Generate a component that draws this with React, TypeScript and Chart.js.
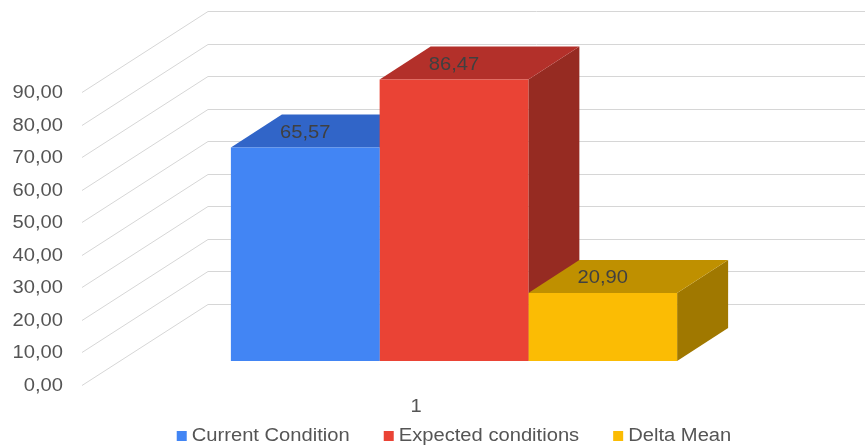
import React, { useEffect, useRef } from "react";
import { Chart, registerables } from "chart.js";

Chart.register(...registerables);

const categories = ["1"];
const seriesNames = ["Current Condition", "Expected conditions", "Delta Mean"];
const seriesValues = [[65.57], [86.47], [20.9]];
const frontColors = ["#4285F4", "#EA4335", "#FBBC04"];
const topColors = ["#3165C8", "#B3302A", "#BF9000"];
const sideColors = ["#2A55A8", "#962B22", "#A07800"];
const yTicks = [0, 10, 20, 30, 40, 50, 60, 70, 80, 90];

const fmt = (v: number) => v.toFixed(2).replace(".", ",");

// perspective constants (pixels)
const FRONT_DX = -38; // bar plane -> front plane
const FRONT_DY = 24;
const BACK_DX = 88; // bar plane -> back wall
const BACK_DY = -57;
const DEPTH_DX = 51; // bar depth
const DEPTH_DY = -33;
const STRETCH = 1.12;
const FONT = '18px "Liberation Sans", Arial, sans-serif';
const TEXT_COLOR = "#555555";

function stretchedText(ctx: CanvasRenderingContext2D, text: string, x: number, y: number, align: "left" | "center" | "right", color: string) {
  ctx.save();
  ctx.font = FONT;
  ctx.fillStyle = color;
  ctx.textBaseline = "middle";
  const w = ctx.measureText(text).width * STRETCH;
  let left = x;
  if (align === "center") left = x - w / 2;
  if (align === "right") left = x - w;
  ctx.translate(left, y);
  ctx.scale(STRETCH, 1);
  ctx.textAlign = "left";
  ctx.fillText(text, 0, 0);
  ctx.restore();
  return w;
}

const threeD = {
  id: "threeD",
  beforeDatasetsDraw(chart: any) {
    const ctx: CanvasRenderingContext2D = chart.ctx;
    const y = chart.scales.y;
    const area = chart.chartArea;
    ctx.save();
    ctx.strokeStyle = "#d6d6d6";
    ctx.lineWidth = 1;
    const frontX = area.left + FRONT_DX;
    const backX = area.left + BACK_DX;
    for (const t of yTicks) {
      const py = Math.round(y.getPixelForValue(t)) + 0.5;
      ctx.beginPath();
      ctx.moveTo(frontX, py + FRONT_DY);
      ctx.lineTo(backX, py + BACK_DY);
      ctx.lineTo(chart.width, py + BACK_DY);
      ctx.stroke();
    }
    ctx.restore();
    for (const t of yTicks) {
      const py = y.getPixelForValue(t) + FRONT_DY + 1;
      stretchedText(ctx, fmt(t), frontX - 19, py, "right", TEXT_COLOR);
    }
    chart.data.datasets.forEach((ds: any, i: number) => {
      const meta = chart.getDatasetMeta(i);
      meta.data.forEach((bar: any) => {
        const l = bar.x - bar.width / 2;
        const r = bar.x + bar.width / 2;
        const top = bar.y;
        const base = bar.base;
        ctx.save();
        ctx.fillStyle = sideColors[i];
        ctx.beginPath();
        ctx.moveTo(r, top);
        ctx.lineTo(r + DEPTH_DX, top + DEPTH_DY);
        ctx.lineTo(r + DEPTH_DX, base + DEPTH_DY);
        ctx.lineTo(r, base);
        ctx.closePath();
        ctx.fill();
        ctx.fillStyle = topColors[i];
        ctx.beginPath();
        ctx.moveTo(l, top);
        ctx.lineTo(l + DEPTH_DX, top + DEPTH_DY);
        ctx.lineTo(r + DEPTH_DX, top + DEPTH_DY);
        ctx.lineTo(r, top);
        ctx.closePath();
        ctx.fill();
        ctx.restore();
      });
    });
  },
  afterDatasetsDraw(chart: any) {
    const ctx: CanvasRenderingContext2D = chart.ctx;
    chart.data.datasets.forEach((ds: any, i: number) => {
      const meta = chart.getDatasetMeta(i);
      meta.data.forEach((bar: any, j: number) => {
        stretchedText(ctx, fmt(ds.data[j]), bar.x, bar.y + DEPTH_DY / 2 + 2, "center", "#404040");
      });
    });
    const x = chart.scales.x;
    const area = chart.chartArea;
    categories.forEach((c, j) => {
      stretchedText(ctx, c, x.getPixelForValue(j) + FRONT_DX, area.bottom + 46, "center", TEXT_COLOR);
    });
    const box = 10;
    const gapBox = 5;
    const gapItem = 34;
    ctx.save();
    ctx.font = FONT;
    const widths = seriesNames.map((n) => ctx.measureText(n).width * STRETCH);
    ctx.restore();
    const total = widths.reduce((a, w) => a + box + gapBox + w, 0) + gapItem * (seriesNames.length - 1);
    let lx = (area.left + area.right) / 2 - total / 2;
    const ly = area.bottom + 75;
    seriesNames.forEach((n, i) => {
      ctx.fillStyle = frontColors[i];
      ctx.fillRect(lx, ly - box / 2, box, box);
      stretchedText(ctx, n, lx + box + gapBox, ly, "left", TEXT_COLOR);
      lx += box + gapBox + widths[i] + gapItem;
    });
  },
};

export default function App() {
  const ref = useRef<HTMLCanvasElement | null>(null);
  useEffect(() => {
    if (!ref.current) return;
    const chart = new Chart(ref.current, {
      type: "bar",
      data: {
        labels: categories,
        datasets: seriesNames.map((name, i) => ({
          label: name,
          data: seriesValues[i],
          backgroundColor: frontColors[i],
          borderWidth: 0,
          categoryPercentage: 0.668,
          barPercentage: 1,
        })),
      },
      options: {
        animation: false,
        responsive: false,
        maintainAspectRatio: false,
        layout: { padding: { left: 120, right: 77, top: 68, bottom: 85 } },
        plugins: { legend: { display: false }, tooltip: { enabled: false } },
        scales: {
          x: { display: false },
          y: { display: false, min: 0, max: 90 },
        },
      },
      plugins: [threeD],
    });
    return () => chart.destroy();
  }, []);
  return (
    <div style={{ position: "fixed", left: 0, top: 0, width: 865, height: 446, background: "#fff" }}>
      <canvas ref={ref} width={865} height={446} style={{ width: 865, height: 446 }} />
    </div>
  );
}
